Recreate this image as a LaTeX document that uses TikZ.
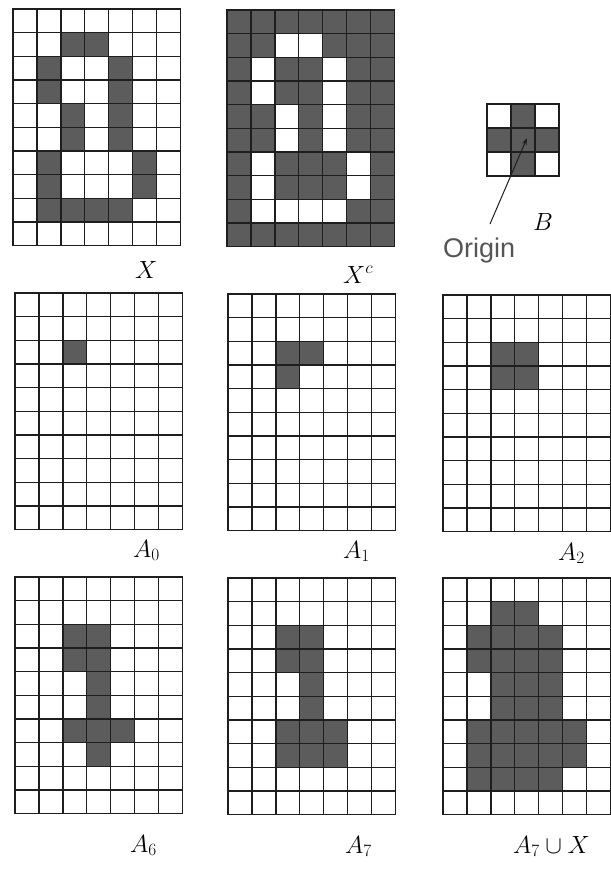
\documentclass[tikz,border=0pt]{standalone}
\usepackage{fontspec}
\newfontfamily\osans{Liberation Sans}
\usetikzlibrary{arrows.meta}
\definecolor{cellgray}{HTML}{5C5C5C}
\definecolor{linecol}{HTML}{1E1E1E}
\definecolor{origincol}{HTML}{555555}
\def\cw{23.9}
\def\ch{23.65}
% #1 x0, #2 y0, #3 background colour, #4 cell colour, #5 cells (col/row)
\newcommand\mygrid[5]{%
\begin{scope}[shift={(#1,#2)}]
\fill[#3] (0,0) rectangle (7*\cw,10*\ch);
\foreach \cc/\rr in {#5} \fill[#4] (\cc*\cw,\rr*\ch) rectangle ++(\cw,\ch);
\foreach \i in {0,...,7} \draw[gridline] (\i*\cw,0) -- (\i*\cw,10*\ch);
\foreach \j in {0,...,10} \draw[gridline] (0,\j*\ch) -- (7*\cw,\j*\ch);
\end{scope}}
\tikzset{
  gridline/.style={draw=linecol, line width=1.4pt, line cap=rect},
  lbl/.style={anchor=base west, inner sep=0pt, font=\fontsize{26}{30}\selectfont},
}
\begin{document}
\begin{tikzpicture}[x=1pt,y=-1pt]
\useasboundingbox (0,0) rectangle (611,871);
% X
\mygrid{13}{9}{white}{cellgray}{2/1,3/1,1/2,4/2,1/3,4/3,2/4,4/4,2/5,4/5,1/6,5/6,1/7,5/7,1/8,2/8,3/8,4/8}
% X^c
\mygrid{227}{10}{cellgray}{white}{2/1,3/1,1/2,4/2,1/3,4/3,2/4,4/4,2/5,4/5,1/6,5/6,1/7,5/7,1/8,2/8,3/8,4/8}
% B
\begin{scope}[shift={(487,104)}]
\fill[cellgray] (24,0) rectangle (48,72);
\fill[cellgray] (0,24) rectangle (72,48);
\foreach \i in {0,1,2,3} {\draw[gridline] (\i*24,0) -- (\i*24,72); \draw[gridline] (0,\i*24) -- (72,\i*24);}
\coordinate (Bc) at (40,34);
\end{scope}
% A0, A1, A2
\mygrid{15}{293}{white}{cellgray}{2/2}
\mygrid{228}{294}{white}{cellgray}{2/2,3/2,2/3}
\mygrid{443}{295}{white}{cellgray}{2/2,3/2,2/3,3/3}
% A6, A7, A7 cup X
\mygrid{15}{577}{white}{cellgray}{2/2,3/2,2/3,3/3,3/4,3/5,2/6,3/6,4/6,3/7}
\mygrid{228}{578}{white}{cellgray}{2/2,3/2,2/3,3/3,3/4,3/5,2/6,3/6,4/6,2/7,3/7,4/7}
\mygrid{443}{578}{white}{cellgray}{2/1,3/1,1/2,2/2,3/2,4/2,1/3,2/3,3/3,4/3,2/4,3/4,4/4,2/5,3/5,4/5,1/6,2/6,3/6,4/6,5/6,1/7,2/7,3/7,4/7,5/7,1/8,2/8,3/8,4/8}
% Origin and arrow
\node[anchor=base west, inner sep=0pt, text=origincol, font=\osans\fontsize{27}{30}\selectfont] (origin) at (443,257) {Origin};
\coordinate (ostart) at (490,224);
\draw[line width=1pt, draw=linecol, -{Stealth[length=7pt,width=5pt]}] (ostart) -- (Bc);
% labels
\node[lbl] (lX) at (135,278) {$X$};
\node[lbl] (lXc) at (343,283) {$X^c$};
\node[lbl] (lB) at (533,230) {$B$};
\node[lbl] (lA0) at (133,557) {$A_0$};
\node[lbl] (lA1) at (343,558) {$A_1$};
\node[lbl] (lA2) at (558,560) {$A_2$};
\node[lbl] (lA6) at (130,852) {$A_6$};
\node[lbl] (lA7) at (345,853) {$A_7$};
\node[lbl] (lA7X) at (513,853) {$A_7\cup X$};
\end{tikzpicture}
\end{document}
